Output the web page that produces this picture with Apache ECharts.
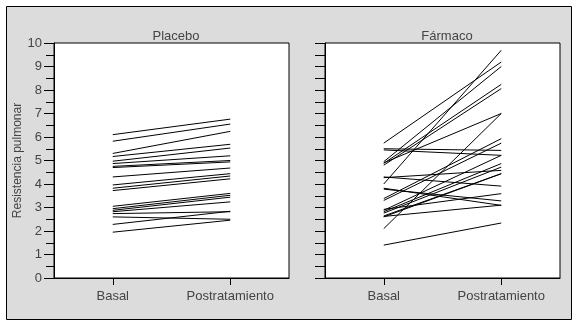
<!DOCTYPE html>
<html>
<head>
<meta charset="utf-8">
<script src="https://cdn.jsdelivr.net/npm/echarts@6/dist/echarts.min.js"></script>
<style>
html,body{margin:0;padding:0;background:#fff;}
#c{width:576px;height:327px;}
</style>
</head>
<body>
<div id="c"></div>
<script>
var categories = ['Basal', 'Postratamiento'];
var yTicks = [0,1,2,3,4,5,6,7,8,9,10];
var panelTitles = ['Placebo', 'Fármaco'];
var yAxisTitle = 'Resistencia pulmonar';

var placeboBasal = [6.1, 5.82, 5.3, 5.17, 4.97, 4.87, 4.75, 4.7, 4.3, 3.96, 3.82, 3.72, 3.05, 2.95, 2.88, 2.82, 2.74, 2.6, 2.28, 1.95];
var placeboPost  = [6.76, 6.55, 6.24, 5.69, 5.53, 5.2, 5.0, 4.94, 4.68, 4.44, 4.34, 4.22, 3.6, 3.52, 3.44, 3.24, 2.82, 2.5, 2.84, 2.46];

var farmacoBasal = [5.74, 4.95, 4.88, 4.8, 4.0, 5.5, 5.45, 4.9, 2.1, 4.27, 4.3, 3.78, 3.82, 3.38, 3.3, 2.88, 2.82, 2.76, 2.64, 2.6, 2.92, 2.62, 1.4];
var farmacoPost  = [9.19, 9.0, 8.24, 8.06, 9.69, 5.43, 5.22, 7.0, 7.0, 4.58, 3.91, 3.28, 3.09, 5.93, 5.74, 5.22, 4.87, 4.72, 4.44, 4.44, 3.59, 3.1, 2.34];

var txt = '#444';
var font = 'Liberation Sans, Arial, sans-serif';

function mkSeries(basal, post, idx) {
  return basal.map(function (b, i) {
    return {
      type: 'line', xAxisIndex: idx, yAxisIndex: idx,
      data: [b, post[i]], symbol: 'none', silent: true,
      lineStyle: {color: '#000', width: 1}, z: 5
    };
  });
}

var chart = echarts.init(document.getElementById('c'), null, {renderer: 'canvas'});
var yBase = {
  type: 'value', min: 0, max: 10, interval: 1,
  splitLine: {show: false},
  axisLine: {show: true, lineStyle: {color: '#000'}},
  axisTick: {show: true, inside: false, length: 10, lineStyle: {color: '#000'}},
  minorTick: {show: true, splitNumber: 2, length: 8, lineStyle: {color: '#000'}},
  minorSplitLine: {show: false}
};
var xBase = {
  type: 'category', data: categories, boundaryGap: true,
  axisLine: {show: true, lineStyle: {color: '#000'}},
  axisTick: {show: true, alignWithLabel: true, length: 7, lineStyle: {color: '#000'}},
  axisLabel: {color: txt, fontSize: 13, fontFamily: font, margin: 12},
  splitLine: {show: false}
};

chart.setOption({
  animation: false,
  backgroundColor: '#fff',
  graphic: [{
    type: 'rect', z: -100, shape: {x: 6.5, y: 6.5, width: 565, height: 313},
    style: {fill: '#dcdcdc', stroke: '#000', lineWidth: 1}
  }],
  title: [
    {text: panelTitles[0], left: 171, top: 25, textAlign: 'center',
     textStyle: {color: txt, fontSize: 13, fontWeight: 'normal', fontFamily: font}},
    {text: panelTitles[1], left: 442, top: 25, textAlign: 'center',
     textStyle: {color: txt, fontSize: 13, fontWeight: 'normal', fontFamily: font}}
  ],
  grid: [
    {left: 54, top: 43, width: 235, height: 235, show: true, backgroundColor: '#fff', borderColor: '#000', borderWidth: 1},
    {left: 325, top: 43, width: 235, height: 235, show: true, backgroundColor: '#fff', borderColor: '#000', borderWidth: 1}
  ],
  xAxis: [
    Object.assign({}, xBase, {gridIndex: 0}),
    Object.assign({}, xBase, {gridIndex: 1})
  ],
  yAxis: [
    Object.assign({}, yBase, {gridIndex: 0,
      name: yAxisTitle, nameLocation: 'middle', nameGap: 28,
      nameTextStyle: {color: txt, fontSize: 12, fontFamily: font},
      axisLabel: {color: txt, fontSize: 13, fontFamily: font, margin: 12,
        formatter: function (v) { return yTicks.indexOf(v) >= 0 ? String(v) : ''; }}}),
    Object.assign({}, yBase, {gridIndex: 1, axisLabel: {show: false},
      minorTick: {show: true, splitNumber: 2, length: 10, lineStyle: {color: '#000'}}})
  ],
  series: mkSeries(placeboBasal, placeboPost, 0).concat(mkSeries(farmacoBasal, farmacoPost, 1))
});
</script>
</body>
</html>
